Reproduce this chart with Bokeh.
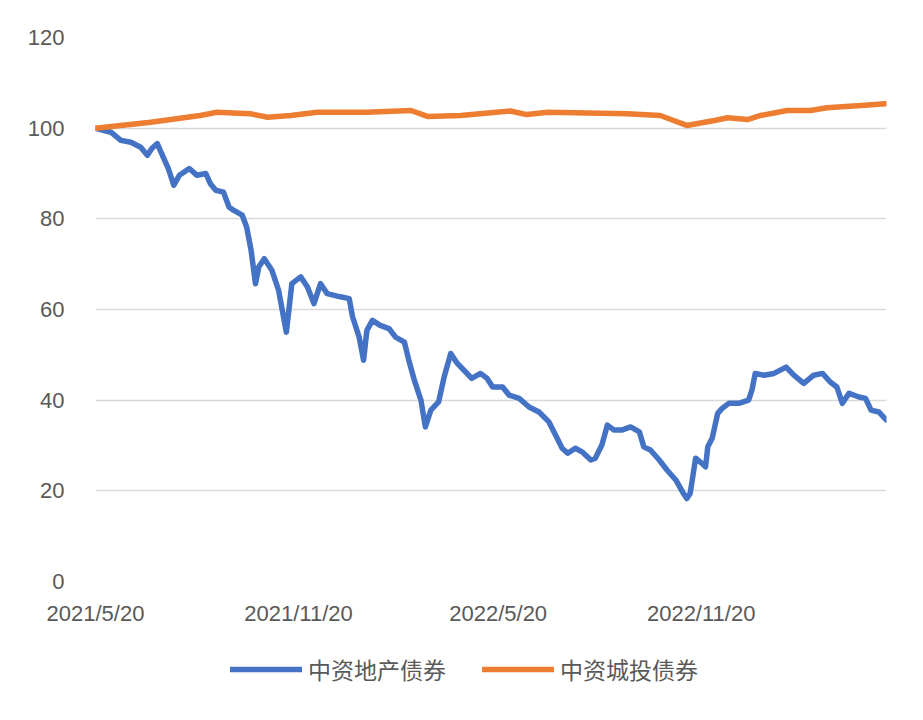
from datetime import date
from bokeh.plotting import figure
from bokeh.layouts import column
from bokeh.models import Range1d, FixedTicker, Legend, LegendItem
from bokeh.embed import file_html
from bokeh.resources import INLINE

# --- data (x = days since 2021/5/20) ---
start_date = "2021-05-20"
tick_dates = ["2021-05-20", "2021-11-20", "2022-05-20", "2022-11-20"]
tick_labels = ["2021/5/20", "2021/11/20", "2022/5/20", "2022/11/20"]
y_ticks = [0, 20, 40, 60, 80, 100, 120]

series_names = ["中资地产债券", "中资城投债券"]

re_days = [0, 14, 23, 32, 41, 47, 51, 56, 60, 66, 71, 76, 85, 92, 100, 104, 109, 116, 121, 125,
           133, 137, 141, 145, 148, 153, 160, 166, 173, 178, 186, 192, 198, 204, 210, 222, 230, 233,
           239, 243, 246, 251, 258, 266, 272, 280, 284, 289, 295, 299, 304, 311, 316, 322, 328, 334,
           341, 349, 355, 360, 369, 375, 384, 393, 402, 411, 417, 423, 428, 435, 441, 449, 453, 459,
           464, 470, 477, 485, 493, 497, 503, 511, 518, 526, 533, 536, 539, 544, 548, 553, 555, 559,
           564, 568, 574, 583, 592, 595, 598, 606, 615, 626, 633, 642, 651, 659, 666, 672, 677, 683,
           692, 698, 703, 710, 717]
re_vals = [100.0, 99.1, 97.3, 96.9, 95.8, 94.0, 95.5, 96.6, 94.4, 91.1, 87.4, 89.6, 91.1, 89.6, 90.0,
           87.8, 86.3, 85.9, 82.6, 81.9, 80.8, 78.2, 73.1, 65.7, 69.4, 71.2, 68.6, 64.2, 55.0, 65.7,
           67.2, 65.0, 61.3, 65.7, 63.5, 62.8, 62.4, 58.4, 53.9, 48.8, 55.4, 57.6, 56.5, 55.8, 53.9,
           52.8, 48.8, 44.4, 40.0, 34.1, 37.8, 39.6, 45.1, 50.3, 48.1, 46.6, 44.8, 45.9, 44.8, 42.9,
           42.9, 41.1, 40.4, 38.5, 37.4, 35.2, 32.3, 29.4, 28.3, 29.4, 28.6, 26.8, 27.2, 30.1, 34.5,
           33.4, 33.4, 34.1, 33.0, 29.7, 29.0, 26.8, 24.6, 22.4, 19.4, 18.3, 19.4, 27.2, 26.4, 25.3,
           29.7, 31.6, 37.1, 38.2, 39.3, 39.3, 40.0, 42.2, 45.9, 45.5, 45.9, 47.3, 45.5, 43.7, 45.5,
           45.9, 44.0, 42.9, 39.3, 41.5, 40.7, 40.4, 37.8, 37.4, 35.6]

ct_days = [0, 50, 95, 110, 140, 156, 177, 201, 246, 286, 301, 331, 376, 391, 410, 482, 512, 524,
           536, 561, 573, 591, 603, 627, 648, 663, 694, 716]
ct_vals = [100.0, 101.3, 102.8, 103.5, 103.2, 102.4, 102.8, 103.5, 103.5, 103.9, 102.6, 102.8, 103.8,
           103.0, 103.5, 103.2, 102.8, 101.7, 100.6, 101.7, 102.3, 101.9, 102.8, 103.9, 103.9, 104.5,
           105.0, 105.4]

colors = ["#4472C4", "#ED7D31"]
# ------------------------------------

d0 = date.fromisoformat(start_date)
tick_pos = [(date.fromisoformat(t) - d0).days for t in tick_dates]

p = figure(frame_width=791, frame_height=544, output_backend="svg", toolbar_location=None,
           x_range=Range1d(0, 717), y_range=Range1d(0, 120),
           min_border_left=95, min_border_right=21, min_border_top=37, min_border_bottom=70)
p.outline_line_color = None
p.background_fill_color = "white"
p.border_fill_color = "white"

line_kw = dict(line_width=5.5, line_join="round", line_cap="round")
p.line(re_days, re_vals, line_color=colors[0], **line_kw)
p.line(ct_days, ct_vals, line_color=colors[1], **line_kw)

p.xgrid.grid_line_color = None
p.ygrid.grid_line_color = "#D9D9D9"
p.ygrid.grid_line_width = 1.5

p.yaxis.ticker = FixedTicker(ticks=y_ticks)
p.xaxis.ticker = FixedTicker(ticks=tick_pos)
p.xaxis.major_label_overrides = {tp: lab for tp, lab in zip(tick_pos, tick_labels)}

for ax in (p.xaxis[0], p.yaxis[0]):
    ax.axis_line_color = None
    ax.major_tick_line_color = None
    ax.minor_tick_line_color = None
    ax.major_tick_out = 0
    ax.major_tick_in = 0
    ax.minor_tick_out = 0
    ax.major_label_text_font = "Liberation Sans"
    ax.major_label_text_font_size = "22px"
    ax.major_label_text_color = "#595959"

p.yaxis.major_label_standoff = 31
p.xaxis.major_label_standoff = 19

# legend strip below the chart: same series drawn again, but outside its visible range,
# so only the legend entries show
lg = figure(width=907, height=60, output_backend="svg", toolbar_location=None,
            x_range=Range1d(0, 717), y_range=Range1d(1000, 1001),
            min_border_left=0, min_border_right=0, min_border_top=0, min_border_bottom=0)
lg.axis.visible = False
lg.grid.visible = False
lg.outline_line_color = None
lg.background_fill_color = "white"
lg.border_fill_color = "white"
l1 = lg.line(re_days, re_vals, line_color=colors[0], **line_kw)
l2 = lg.line(ct_days, ct_vals, line_color=colors[1], **line_kw)

legend = Legend(items=[LegendItem(label=series_names[0], renderers=[l1]),
                       LegendItem(label=series_names[1], renderers=[l2])],
                orientation="horizontal", location=(135, 25))
legend.border_line_color = None
legend.background_fill_alpha = 0
legend.glyph_width = 72
legend.glyph_height = 22
legend.label_standoff = 6
legend.spacing = 36
legend.padding = 0
legend.margin = 0
legend.label_text_font = "Noto Sans CJK SC"
legend.label_text_font_size = "23px"
legend.label_text_color = "#595959"
lg.add_layout(legend, "center")

layout = column(p, lg, spacing=0)
open("out.html", "w").write(file_html(layout, INLINE))
